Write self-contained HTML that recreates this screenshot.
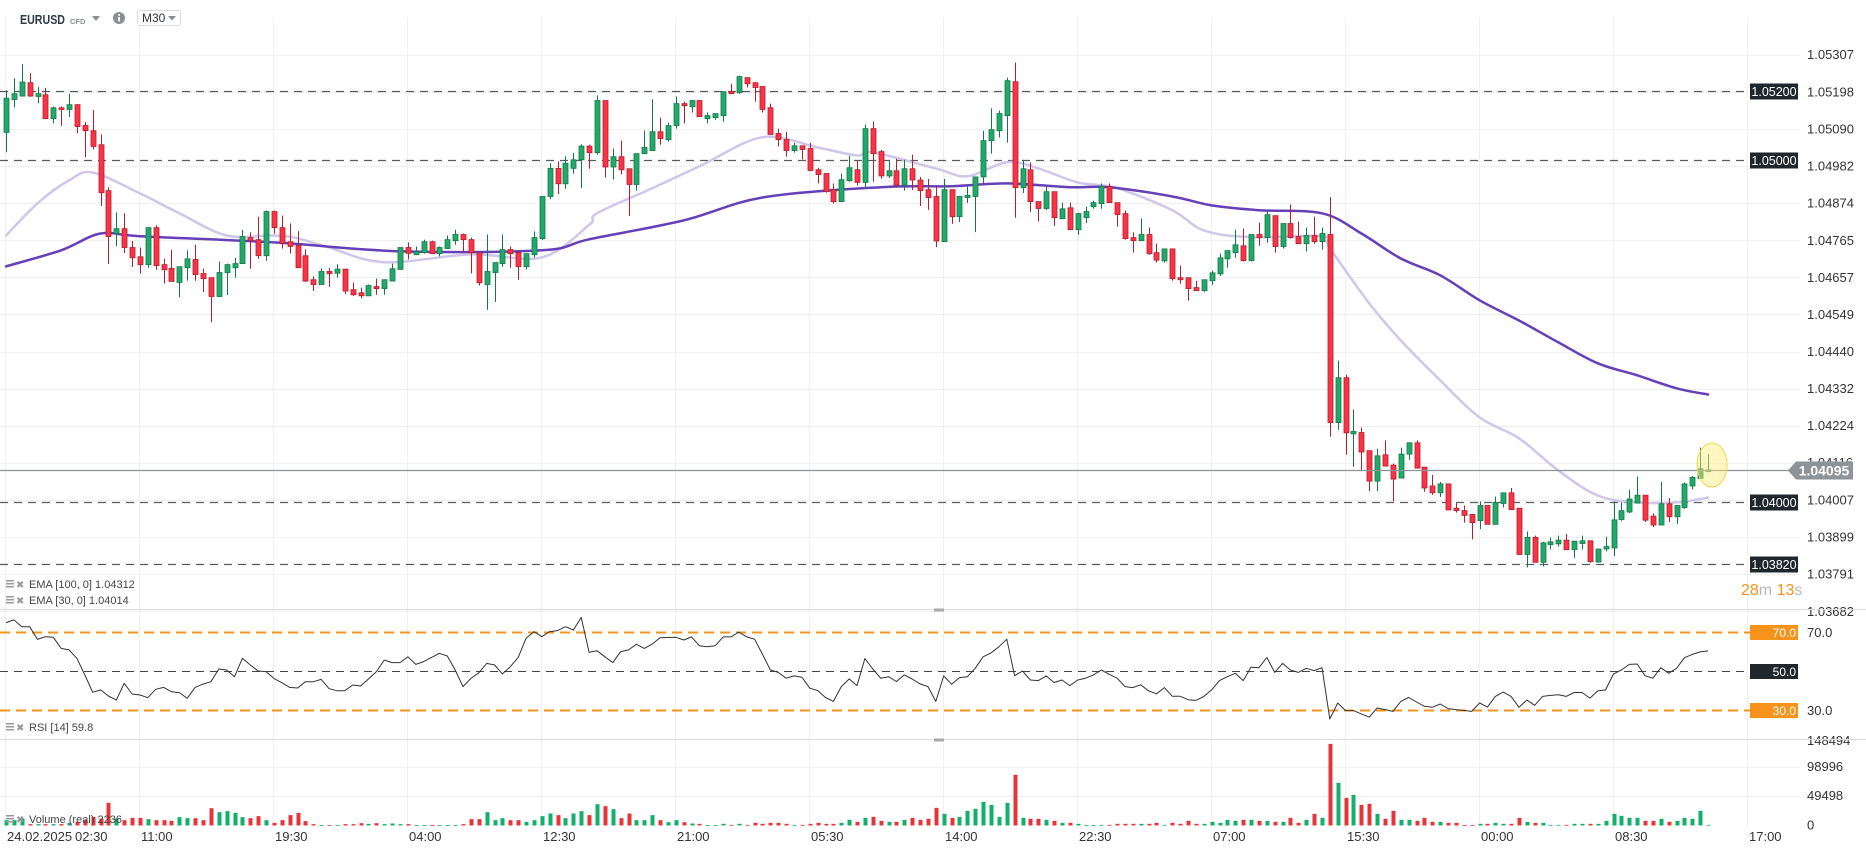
<!DOCTYPE html>
<html><head><meta charset="utf-8"><title>EURUSD M30</title>
<style>
html,body{margin:0;padding:0;background:#fff;width:1866px;height:860px;overflow:hidden;}
svg{display:block;font-family:"Liberation Sans",Arial,sans-serif;}
</style></head>
<body>
<svg id="chart" width="1866" height="860" viewBox="0 0 1866 860" xmlns="http://www.w3.org/2000/svg">
  <g id="grid"></g>
  <g id="levels"></g>
  <g id="emas"></g>
  <g id="candles"></g>
  <g id="rsi"></g>
  <g id="volume"></g>
  <g id="axes"></g>

  <!-- header -->
  <g>
    <text x="20" y="24" font-size="13" font-weight="bold" fill="#2b3a45" textLength="45" lengthAdjust="spacingAndGlyphs">EURUSD</text>
    <text x="70" y="24" font-size="7.5" fill="#8a8f94" font-weight="bold">CFD</text>
    <path d="M92 16 L100 16 L96 21 Z" fill="#8a8f94"/>
    <g>
      <circle cx="119" cy="18" r="6" fill="#8a8f94"/>
      <rect x="118.2" y="17" width="1.8" height="4.5" fill="#fff"/>
      <rect x="118.2" y="14" width="1.8" height="1.8" fill="#fff"/>
    </g>
    <g>
      <rect x="137.5" y="10.5" width="43" height="15" rx="2" fill="#fff" stroke="#dcdcdc"/>
      <text x="142" y="22" font-size="12" fill="#333">M30</text>
      <path d="M168 16 L176 16 L172 20.5 Z" fill="#8a8f94"/>
    </g>
  </g>

  <!-- highlight ellipse -->
  <ellipse cx="1712" cy="465" rx="15" ry="22" fill="rgba(255,236,120,0.45)" stroke="#f2d64b" stroke-width="1"/>

  <!-- legends -->
  <g>
    <rect x="6" y="580" width="8" height="1.5" fill="#999"/><rect x="6" y="583" width="8" height="1.5" fill="#999"/><rect x="6" y="586" width="8" height="1.5" fill="#999"/>
    <text x="16" y="588" font-size="10" fill="#999">✖</text>
    <text x="29" y="588" font-size="11" fill="#444">EMA [100, 0] 1.04312</text>
  </g>
  <g>
    <rect x="6" y="596" width="8" height="1.5" fill="#999"/><rect x="6" y="599" width="8" height="1.5" fill="#999"/><rect x="6" y="602" width="8" height="1.5" fill="#999"/>
    <text x="16" y="604" font-size="10" fill="#999">✖</text>
    <text x="29" y="604" font-size="11" fill="#444">EMA [30, 0] 1.04014</text>
  </g>
  <g>
    <rect x="6" y="723" width="8" height="1.5" fill="#999"/><rect x="6" y="726" width="8" height="1.5" fill="#999"/><rect x="6" y="729" width="8" height="1.5" fill="#999"/>
    <text x="16" y="731" font-size="10" fill="#999">✖</text>
    <text x="29" y="731" font-size="11" fill="#444">RSI [14]  59.8</text>
  </g>
  <g>
    <rect x="6" y="815" width="8" height="1.5" fill="#999"/><rect x="6" y="818" width="8" height="1.5" fill="#999"/><rect x="6" y="821" width="8" height="1.5" fill="#999"/>
    <text x="16" y="823" font-size="10" fill="#999">✖</text>
    <text x="29" y="823" font-size="11" fill="#444">Volume  (real)  2236</text>
  </g>

  <!-- timer -->
  <text x="1741" y="595" font-size="16"><tspan fill="#f7931a">28</tspan><tspan fill="#b8b8b8">m </tspan><tspan fill="#f7931a">13</tspan><tspan fill="#b8b8b8">s</tspan></text>
</svg>

<script>
// ---------- data ----------
const opens=[1.05080,1.05176,1.05186,1.05225,1.05185,1.05190,1.05120,1.05152,1.05147,1.05161,1.05100,1.05085,1.05044,1.04910,1.04785,1.04799,1.04744,1.04717,1.04694,1.04802,1.04694,1.04683,1.04642,1.04685,1.04709,1.04668,1.04656,1.04601,1.04671,1.04685,1.04697,1.04773,1.04767,1.04720,1.04849,1.04802,1.04761,1.04750,1.04720,1.04650,1.04636,1.04674,1.04669,1.04681,1.04621,1.04612,1.04603,1.04630,1.04624,1.04646,1.04680,1.04744,1.04723,1.04729,1.04761,1.04726,1.04741,1.04764,1.04782,1.04767,1.04729,1.04636,1.04671,1.04697,1.04738,1.04729,1.04688,1.04723,1.04770,1.04893,1.04975,1.04930,1.04975,1.05000,1.05040,1.05021,1.05173,1.04979,1.05009,1.04974,1.04928,1.05018,1.05027,1.05082,1.05059,1.05100,1.05164,1.05155,1.05173,1.05120,1.05123,1.05129,1.05199,1.05196,1.05240,1.05225,1.05214,1.05152,1.05077,1.05059,1.05027,1.05041,1.05033,1.04971,1.04960,1.04913,1.04878,1.04939,1.04971,1.04934,1.05091,1.05024,1.04953,1.04968,1.04926,1.04974,1.04941,1.04913,1.04893,1.04761,1.04913,1.04834,1.04890,1.04893,1.04950,1.05056,1.05085,1.05129,1.05228,1.04919,1.04971,1.04878,1.04858,1.04907,1.04828,1.04860,1.04796,1.04831,1.04863,1.04872,1.04922,1.04875,1.04843,1.04773,1.04764,1.04782,1.04729,1.04705,1.04740,1.04656,1.04656,1.04627,1.04618,1.04647,1.04667,1.04711,1.04729,1.04749,1.04706,1.04782,1.04773,1.04837,1.04747,1.04814,1.04776,1.04755,1.04779,1.04761,1.04782,1.04233,1.04364,1.04200,1.04204,1.04151,1.04062,1.04139,1.04109,1.04071,1.04141,1.04174,1.04103,1.04048,1.04028,1.04054,1.03983,1.03976,1.03965,1.03947,1.03991,1.03936,1.03997,1.04028,1.03983,1.03848,1.03898,1.03825,1.03877,1.03879,1.03890,1.03862,1.03880,1.03888,1.03826,1.03864,1.03867,1.03950,1.03972,1.03998,1.04021,1.03960,1.03934,1.03996,1.03958,1.03985,1.04048,1.04070,1.04093];
const highs=[1.05203,1.05238,1.05279,1.05253,1.05212,1.05210,1.05156,1.05156,1.05193,1.05162,1.05110,1.05145,1.05074,1.04920,1.04847,1.04844,1.04763,1.04744,1.04803,1.04809,1.04711,1.04737,1.04689,1.04736,1.04752,1.04682,1.04657,1.04703,1.04697,1.04714,1.04796,1.04788,1.04834,1.04852,1.04852,1.04837,1.04814,1.04792,1.04739,1.04660,1.04683,1.04685,1.04695,1.04681,1.04642,1.04627,1.04636,1.04653,1.04650,1.04697,1.04744,1.04759,1.04747,1.04767,1.04764,1.04747,1.04779,1.04796,1.04785,1.04773,1.04729,1.04782,1.04700,1.04782,1.04747,1.04735,1.04726,1.04791,1.04893,1.04990,1.04995,1.05010,1.05020,1.05045,1.05044,1.05188,1.05173,1.05033,1.05056,1.04974,1.05018,1.05086,1.05176,1.05123,1.05109,1.05185,1.05170,1.05173,1.05173,1.05138,1.05135,1.05199,1.05222,1.05246,1.05240,1.05228,1.05214,1.05164,1.05091,1.05082,1.05050,1.05041,1.05050,1.04977,1.04960,1.04931,1.04960,1.05012,1.04998,1.05103,1.05112,1.05029,1.05000,1.05003,1.05000,1.05015,1.04950,1.04944,1.04924,1.04944,1.04913,1.04893,1.04922,1.04950,1.05085,1.05150,1.05144,1.05240,1.05284,1.05000,1.04992,1.04878,1.04923,1.04907,1.04875,1.04875,1.04846,1.04863,1.04881,1.04931,1.04931,1.04875,1.04852,1.04788,1.04829,1.04802,1.04755,1.04740,1.04740,1.04691,1.04656,1.04647,1.04650,1.04676,1.04726,1.04735,1.04796,1.04799,1.04782,1.04817,1.04849,1.04837,1.04814,1.04870,1.04820,1.04802,1.04834,1.04802,1.04891,1.04414,1.04373,1.04271,1.04219,1.04151,1.04157,1.04181,1.04113,1.04160,1.04174,1.04181,1.04103,1.04080,1.04060,1.04054,1.03998,1.03991,1.03965,1.04003,1.03991,1.04017,1.04028,1.04042,1.03983,1.03915,1.03903,1.03885,1.03897,1.03903,1.03908,1.03887,1.03903,1.03888,1.03864,1.03900,1.04003,1.04000,1.04037,1.04076,1.04021,1.03968,1.04060,1.04013,1.03991,1.04058,1.04077,1.04160,1.04141];
const lows=[1.05022,1.05153,1.05186,1.05184,1.05165,1.05120,1.05107,1.05099,1.05125,1.05078,1.05008,1.05030,1.04865,1.04696,1.04748,1.04728,1.04687,1.04668,1.04685,1.04679,1.04639,1.04645,1.04599,1.04647,1.04647,1.04614,1.04526,1.04601,1.04605,1.04656,1.04697,1.04682,1.04711,1.04705,1.04784,1.04741,1.04726,1.04685,1.04643,1.04617,1.04636,1.04629,1.04656,1.04608,1.04603,1.04596,1.04603,1.04606,1.04606,1.04646,1.04680,1.04709,1.04723,1.04726,1.04726,1.04718,1.04741,1.04752,1.04729,1.04668,1.04633,1.04562,1.04585,1.04688,1.04685,1.04650,1.04680,1.04714,1.04766,1.04885,1.04900,1.04915,1.04960,1.04917,1.04974,1.05015,1.04948,1.04942,1.04957,1.04836,1.04910,1.05018,1.05027,1.05044,1.05053,1.05091,1.05106,1.05138,1.05126,1.05106,1.05117,1.05111,1.05193,1.05193,1.05211,1.05170,1.05138,1.05074,1.05039,1.05009,1.05021,1.05001,1.04966,1.04931,1.04904,1.04872,1.04878,1.04936,1.04925,1.04916,1.04936,1.04945,1.04947,1.04920,1.04910,1.04912,1.04865,1.04854,1.04745,1.04761,1.04813,1.04818,1.04874,1.04789,1.04932,1.05018,1.05065,1.05050,1.04831,1.04903,1.04848,1.04820,1.04854,1.04807,1.04828,1.04796,1.04781,1.04816,1.04857,1.04857,1.04875,1.04805,1.04767,1.04729,1.04764,1.04723,1.04700,1.04700,1.04647,1.04638,1.04589,1.04618,1.04615,1.04635,1.04661,1.04685,1.04714,1.04703,1.04703,1.04749,1.04758,1.04729,1.04741,1.04770,1.04755,1.04732,1.04755,1.04738,1.04192,1.04212,1.04139,1.04104,1.04095,1.04033,1.04033,1.04106,1.04003,1.04071,1.04124,1.04100,1.04031,1.04022,1.04016,1.03978,1.03970,1.03941,1.03892,1.03922,1.03936,1.03936,1.03985,1.03979,1.03848,1.03810,1.03825,1.03813,1.03863,1.03871,1.03862,1.03838,1.03862,1.03824,1.03824,1.03857,1.03843,1.03946,1.03969,1.03998,1.03943,1.03928,1.03934,1.03943,1.03937,1.03981,1.04038,1.04070,1.04088];
const closes=[1.05180,1.05193,1.05227,1.05186,1.05193,1.05120,1.05152,1.05147,1.05161,1.05097,1.05085,1.05039,1.04904,1.04776,1.04799,1.04744,1.04714,1.04694,1.04802,1.04691,1.04679,1.04645,1.04688,1.04711,1.04665,1.04653,1.04601,1.04671,1.04694,1.04697,1.04776,1.04764,1.04720,1.04849,1.04802,1.04756,1.04747,1.04685,1.04646,1.04636,1.04674,1.04668,1.04681,1.04617,1.04606,1.04603,1.04633,1.04624,1.04650,1.04682,1.04744,1.04727,1.04732,1.04761,1.04726,1.04744,1.04767,1.04782,1.04767,1.04729,1.04641,1.04674,1.04700,1.04738,1.04726,1.04688,1.04726,1.04773,1.04893,1.04975,1.04930,1.04990,1.05000,1.05040,1.05021,1.05173,1.04979,1.05009,1.04971,1.04928,1.05018,1.05036,1.05082,1.05062,1.05100,1.05164,1.05158,1.05173,1.05126,1.05129,1.05135,1.05199,1.05193,1.05243,1.05222,1.05211,1.05147,1.05074,1.05059,1.05027,1.05041,1.05030,1.04969,1.04957,1.04907,1.04878,1.04942,1.04977,1.04934,1.05091,1.05018,1.04953,1.04968,1.04926,1.04974,1.04941,1.04910,1.04890,1.04763,1.04913,1.04834,1.04893,1.04896,1.04950,1.05056,1.05088,1.05135,1.05231,1.04919,1.04974,1.04878,1.04858,1.04907,1.04831,1.04857,1.04796,1.04843,1.04849,1.04875,1.04922,1.04875,1.04840,1.04770,1.04764,1.04782,1.04726,1.04707,1.04740,1.04653,1.04650,1.04624,1.04618,1.04650,1.04670,1.04714,1.04735,1.04752,1.04706,1.04782,1.04773,1.04840,1.04747,1.04814,1.04773,1.04755,1.04779,1.04761,1.04785,1.04233,1.04364,1.04203,1.04207,1.04147,1.04062,1.04136,1.04106,1.04068,1.04141,1.04174,1.04100,1.04042,1.04028,1.04054,1.03978,1.03976,1.03962,1.03941,1.03991,1.03936,1.04000,1.04028,1.03979,1.03848,1.03898,1.03825,1.03882,1.03885,1.03890,1.03862,1.03887,1.03888,1.03827,1.03864,1.03871,1.03949,1.03976,1.04010,1.04021,1.03948,1.03934,1.03996,1.03958,1.03991,1.04054,1.04073,1.04098,1.04095];
const ema100Idx=[0,7,12,17,34,50,68,74,86,96,111,120,127,135,140,148,153,159,167,172,177,182,187,192,197,202,207,212,216];
const ema100Val=[1.04689,1.04736,1.04785,1.04777,1.04759,1.04733,1.04736,1.04768,1.04823,1.04890,1.04920,1.04923,1.04931,1.04920,1.04920,1.04893,1.04867,1.04853,1.04844,1.04785,1.04712,1.04663,1.04590,1.04531,1.04467,1.04406,1.04371,1.04333,1.04315];
const ema30Idx=[0,4,8,11,17,22,28,34,37,41,48,59,68,74,75,82,88,96,103,108,110,118,122,127,131,136,141,148,152,158,167,168,173,177,182,187,192,197,202,207,212,216];
const ema30Val=[1.04779,1.04873,1.04940,1.04963,1.04902,1.04844,1.04779,1.04779,1.04771,1.04744,1.04701,1.04724,1.04715,1.04810,1.04844,1.04917,1.04981,1.05066,1.05036,1.05013,1.05022,1.04975,1.04952,1.04993,1.04975,1.04934,1.04917,1.04853,1.04794,1.04774,1.04777,1.04742,1.04581,1.04473,1.04356,1.04248,1.04187,1.04093,1.04020,1.04000,1.04000,1.04014];
const rsiVals=[74.8,76.2,72.7,72.7,66.2,67.6,67.3,61.6,60.8,56.5,48.0,39.1,40.3,37.2,35.1,43.7,38.2,37.7,36.3,40.6,41.6,39.4,38.9,36.0,41.6,43.3,44.5,51.0,50.5,47.1,56.5,53.1,50.0,49.7,46.2,44.0,41.6,41.3,44.5,44.5,45.7,40.9,39.9,39.9,42.8,42.3,45.9,49.7,55.6,54.3,54.3,57.3,53.4,54.8,57.0,59.1,57.7,50.5,42.0,46.2,49.1,53.9,53.1,48.5,52.2,57.0,66.8,70.2,67.6,70.2,70.7,72.7,71.0,77.5,59.6,60.4,57.3,54.3,59.9,60.8,63.7,61.6,63.8,67.1,67.2,67.3,65.9,
67.5,62.9,62.4,62.9,67.5,67.5,70.0,67.5,66.3,58.5,50.5,49.3,46.3,47.5,46.8,41.2,40.0,36.4,34.4,42.0,45.9,42.5,56.4,51.0,46.3,47.1,44.6,48.0,45.9,43.4,42.0,34.4,47.5,43.2,46.6,47.1,51.4,57.3,59.3,62.4,66.3,47.6,50.0,45.4,45.1,47.5,44.1,45.4,42.5,45.4,46.3,48.0,50.5,48.3,46.3,42.0,41.5,42.9,39.8,38.3,41.5,37.1,37.1,35.3,34.9,36.9,
40.3,45.1,47.1,48.8,45.1,51.9,51.7,56.9,49.3,53.9,50.5,49.3,51.4,50.2,51.7,25.4,33.6,29.7,29.7,28.0,26.3,31.0,30.2,29.3,34.4,36.4,34.1,31.9,31.4,33.1,30.7,30.2,29.8,29.3,33.6,31.5,37.0,39.2,37.0,31.4,35.1,32.4,37.0,37.5,37.8,37.0,39.0,39.0,36.1,39.8,40.3,48.5,50.5,53.4,53.6,47.6,46.3,51.7,48.8,51.4,56.8,58.5,59.8,60.3];
const volumes=[9000,9000,11800,2300,2300,2300,2300,2300,4500,6200,10100,14600,11800,38300,11800,9000,12900,12900,10700,9000,9000,7900,14100,12400,12400,9000,29300,22500,24200,21400,14100,12400,15800,9000,4500,9000,17500,21400,7300,2300,600,500,500,2300,2300,3900,2800,3900,2300,3400,2300,2300,600,600,600,600,600,600,2300,10700,10700,22500,9000,12400,9000,9000,6200,9000,15800,20300,17500,12400,20300,24200,17500,36000,32700,27600,12400,20300,9000,9000,17500,9000,5600,9000,5600,3400,
2800,500,500,2800,1100,2800,1100,4500,2800,4500,4500,2800,1100,1100,2800,4500,2800,2800,4500,9600,6200,12900,14600,7900,6200,6200,9600,12900,9600,11300,29800,19700,12900,14600,24800,28200,40000,34900,14600,38300,85600,12900,11300,11300,9600,7900,4500,4500,2800,500,500,1100,1100,2800,2800,2800,2800,2800,4500,1100,4500,2800,7900,2800,
2800,6200,4500,9600,7900,9600,9600,7900,7900,6200,6200,12900,4500,9600,19700,12900,137900,72100,46700,51800,34900,36600,19700,11300,24800,9600,9600,7900,12900,6200,6200,4500,4500,500,500,2800,2800,4500,2800,2800,12900,6200,4500,4500,1100,1100,1100,2800,2800,2800,2800,7900,19700,16300,12900,12900,7900,7900,11300,6200,7900,12900,11300,24800,1100];
const priceTicks=[1.05307,1.05198,1.05090,1.04982,1.04874,1.04765,1.04657,1.04549,1.04440,1.04332,1.04224,1.04116,1.04007,1.03899,1.03791,1.03682];
const timeLabels=["11:00","19:30","04:00","12:30","21:00","05:30","14:00","22:30","07:00","15:30","00:00","08:30","17:00"];
const levelLines=[1.05200,1.05000,1.04000,1.03820];
const currentPrice=1.04095;
const rsiLevels=[70,50,30];
const volTicks=[148494,98996,49498,0];

// ---------- scales ----------
const SVGNS="http://www.w3.org/2000/svg";
function xOf(i){return 6+i*7.88;}
function yP(p){return 500-(p-1.04007)*34259;}
function yR(r){return 671-(r-50)*1.95;}
function yV(v){return 825.5-v/1689.3;}
function mk(tag,attrs,parent){const e=document.createElementNS(SVGNS,tag);for(const k in attrs)e.setAttribute(k,attrs[k]);parent.appendChild(e);return e;}

const gGrid=document.getElementById('grid');
const gLev=document.getElementById('levels');
const gEma=document.getElementById('emas');
const gC=document.getElementById('candles');
const gR=document.getElementById('rsi');
const gV=document.getElementById('volume');
const gA=document.getElementById('axes');

for(let k=0;k<=13;k++){
  const x=5.5+134*k;
  const l=mk('line',{x1:x,y1:18,x2:x,y2:828,stroke:'#f0f0f0','stroke-width':1},gGrid);
  
  
}
priceTicks.forEach(p=>{
  const y=Math.round(yP(p))+0.5;
  const l=mk('line',{x1:0,y1:y,x2:1800,y2:y,stroke:'#f0f0f0','stroke-width':1},gGrid);
  
  
  const t=mk('text',{x:1807,y:yP(p)+4.5,'font-size':13,fill:'#333'},gA);
  t.textContent=p.toFixed(5);
  
  
});
[[609,'main-rsi-separator'],[739,'rsi-volume-separator']].forEach(s=>{
  const l=mk('line',{x1:0,y1:s[0]+0.5,x2:1866,y2:s[0]+0.5,stroke:'#dcdcdc','stroke-width':1},gA);
  
  
  const h=mk('rect',{x:934,y:s[0]-0.5,width:10,height:3,fill:'#aaa'},gA);
  
  
});
levelLines.forEach(p=>{
  const y=Math.round(yP(p))+0.5;
  const l=mk('line',{x1:0,y1:y,x2:1750,y2:y,stroke:'#3a4045','stroke-width':1.2,'stroke-dasharray':'8 6',opacity:0.85},gLev);
  
  
  const r=mk('rect',{x:1750,y:y-8,width:48,height:16,fill:'#1f272d'},gLev);
  
  
  const t=mk('text',{x:1774,y:y+4.5,'font-size':12.5,fill:'#fff','text-anchor':'middle'},gLev);
  t.textContent=p.toFixed(5);
  
  
});

// EMA lines (smooth Catmull-Rom through data points)
function emaPath(idx,vals){
  const pts=idx.map((i,k)=>[xOf(i),yP(vals[k])]);
  let d='M'+pts[0][0].toFixed(1)+' '+pts[0][1].toFixed(1);
  for(let k=0;k<pts.length-1;k++){
    const p0=pts[Math.max(0,k-1)],p1=pts[k],p2=pts[k+1],p3=pts[Math.min(pts.length-1,k+2)];
    const c1=[p1[0]+(p2[0]-p0[0])/6,p1[1]+(p2[1]-p0[1])/6];
    const c2=[p2[0]-(p3[0]-p1[0])/6,p2[1]-(p3[1]-p1[1])/6];
    d+=' C'+c1[0].toFixed(1)+' '+c1[1].toFixed(1)+' '+c2[0].toFixed(1)+' '+c2[1].toFixed(1)+' '+p2[0].toFixed(1)+' '+p2[1].toFixed(1);
  }
  return d;
}
const e30=mk('path',{d:emaPath(ema30Idx,ema30Val),fill:'none',stroke:'#cfc6ea','stroke-width':2.5,'stroke-linejoin':'round','stroke-linecap':'round'},gEma);


const e100=mk('path',{d:emaPath(ema100Idx,ema100Val),fill:'none',stroke:'#6540b8','stroke-width':2.5,'stroke-linejoin':'round','stroke-linecap':'round'},gEma);



for(let i=0;i<closes.length;i++){
  const up=closes[i]>=opens[i];
  const fill=up?'#22a86b':'#fa3346', st=up?'#127a48':'#b31f2d';
  const x=Math.round(xOf(i));
  const g=mk('g',{},gC);
  
  
  mk('line',{x1:x+0.5,y1:yP(highs[i]),x2:x+0.5,y2:yP(lows[i]),stroke:st,'stroke-width':1},g);
  const top=yP(Math.max(opens[i],closes[i])), bot=yP(Math.min(opens[i],closes[i]));
  mk('rect',{x:x-2,y:top,width:5,height:Math.max(1.5,bot-top),fill:fill,stroke:st,'stroke-width':0.8},g);
}

const cy=Math.round(yP(currentPrice))+0.5;
const cl=mk('line',{x1:0,y1:cy,x2:1795,y2:cy,stroke:'#8c9399','stroke-width':1.2},gA);


const cb=mk('path',{d:`M1788 ${cy} L1796 ${cy-9} L1853 ${cy-9} L1853 ${cy+9} L1796 ${cy+9} Z`,fill:'#8c9399'},gA);


const ct=mk('text',{x:1824,y:cy+5,'font-size':14,'font-weight':'bold',fill:'#fff','text-anchor':'middle'},gA);
ct.textContent=currentPrice.toFixed(5);



rsiLevels.forEach(r=>{
  const y=Math.round(yR(r))+0.5;
  const orange=r!==50;
  const l=mk('line',{x1:0,y1:y,x2:1750,y2:y,stroke:orange?'#f7931a':'#444','stroke-width':orange?2:1,'stroke-dasharray':orange?'10 6':'8 6'},gR);
  
  
  const b=mk('rect',{x:1750,y:y-7.5,width:48,height:15,fill:orange?'#f7931a':'#1f272d'},gR);
  
  
  const t=mk('text',{x:1796,y:y+4.5,'font-size':12,fill:'#fff','text-anchor':'end'},gR);
  t.textContent=r.toFixed(1);
  
  
  if(orange){
    const a=mk('text',{x:1807,y:y+4.5,'font-size':13,fill:'#333'},gR);
    a.textContent=r.toFixed(1);
    
    
  }
});
const rp=mk('polyline',{points:rsiVals.map((v,i)=>xOf(i).toFixed(1)+','+yR(v).toFixed(1)).join(' '),fill:'none',stroke:'#333','stroke-width':1,'stroke-linejoin':'round'},gR);



volTicks.forEach(v=>{
  const y=yV(v);
  if(v>0&&v<148494){
    const l=mk('line',{x1:0,y1:Math.round(y)+0.5,x2:1800,y2:Math.round(y)+0.5,stroke:'#f0f0f0'},gGrid);
    
    
  }
  const t=mk('text',{x:1807,y:Math.max(y,741)+4,'font-size':13,fill:'#333'},gV);
  t.textContent=String(v);
  
  
});
for(let i=0;i<volumes.length;i++){
  const up=closes[i]>=opens[i];
  const x=Math.round(xOf(i));
  const y=yV(volumes[i]);
  const b=mk('rect',{x:x-1.5,y:y,width:4,height:Math.max(0.8,825.5-y),fill:up?'#12b06b':'#e53538'},gV);
  
  
}

const d=mk('text',{x:7,y:841,'font-size':13,fill:'#333'},gA);
d.textContent='24.02.2025';


const t0=mk('text',{x:75,y:841,'font-size':13,fill:'#333'},gA);
t0.textContent='02:30';


timeLabels.forEach((s,k)=>{
  const t=mk('text',{x:5+134*(k+1)+2,y:841,'font-size':13,fill:'#333'},gA);
  t.textContent=s;
  
  
});
</script>
</body></html>
